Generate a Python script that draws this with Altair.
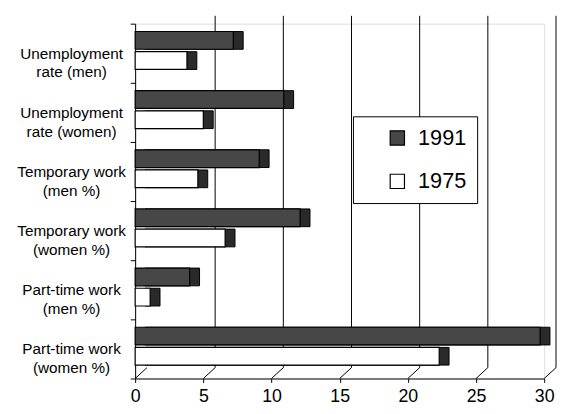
import altair as alt
import pandas as pd

categories = [
    "Unemployment\nrate (men)",
    "Unemployment\nrate (women)",
    "Temporary work\n(men %)",
    "Temporary work\n(women %)",
    "Part-time work\n(men %)",
    "Part-time work\n(women %)",
]
series = ["1991", "1975"]
values_1991 = [7.2, 10.9, 9.1, 12.1, 4.0, 29.7]
values_1975 = [3.8, 5.0, 4.6, 6.6, 1.1, 22.3]
x_ticks = [0, 5, 10, 15, 20, 25, 30]
grid_ticks = [5, 10, 15, 20, 25, 30]

rows = []
for c, a, b in zip(categories, values_1991, values_1975):
    rows.append({"category": c, "series": "1991", "value": a})
    rows.append({"category": c, "series": "1975", "value": b})
df = pd.DataFrame(rows)
grid_df = pd.DataFrame({"tick": grid_ticks})
floor_df = pd.DataFrame({"tick": x_ticks})

FONT = "Liberation Sans"
DARK = "#474747"

xscale = alt.Scale(domain=[0, 30], nice=False, zero=True)
yscale = alt.Scale(domain=categories, paddingInner=0, paddingOuter=0)
yoff = alt.YOffset(
    "series:N",
    sort=series,
    scale=alt.Scale(domain=series, paddingInner=0.12, paddingOuter=0.527, align=0.37),
)

x_enc = alt.X(
    "value:Q",
    scale=xscale,
    axis=alt.Axis(
        values=x_ticks, grid=False, title=None, labelFontSize=18, labelFont=FONT,
        labelColor="black", tickColor="black", domainColor="black", tickSize=4,
        labelPadding=5, domainWidth=1, labelFlush=False,
    ),
)
y_enc = alt.Y(
    "category:N",
    sort=categories,
    scale=yscale,
    axis=alt.Axis(
        title=None, labelExpr="split(datum.label, '\\n')", labelAlign="center",
        labelBaseline="middle", labelPadding=60, tickSize=5, tickBand="extent",
        labelFontSize=15.5, labelFont=FONT, labelColor="black", labelLineHeight=19,
        domainColor="black", tickColor="black", labelLimit=200,
    ),
)

grid = alt.Chart(grid_df).mark_rule(color="black", strokeWidth=1, xOffset=12, x2Offset=12).encode(
    x=alt.X("tick:Q", scale=xscale),
    y=alt.value(-8),
    y2=alt.value(349),
)
floor = alt.Chart(floor_df).mark_rule(color="black", strokeWidth=1, x2Offset=12).encode(
    x=alt.X("tick:Q", scale=xscale),
    x2=alt.X2("tick"),
    y=alt.value(360),
    y2=alt.value(349),
)

shadow = alt.Chart(df).mark_bar(
    fill="#2a2a2a", stroke="black", strokeWidth=1, xOffset=10, yOffset=-6, x2Offset=10, y2Offset=-6
).encode(
    x=alt.X("value:Q", scale=xscale),
    y=alt.Y("category:N", sort=categories, scale=yscale),
    yOffset=yoff,
)

front = alt.Chart(df).mark_bar(stroke="black", strokeWidth=1.2).encode(
    x=x_enc,
    y=y_enc,
    yOffset=yoff,
    fill=alt.Fill(
        "series:N",
        sort=series,
        scale=alt.Scale(domain=series, range=[DARK, "white"]),
        legend=alt.Legend(
            title=None, orient="none", legendX=221, legendY=94, strokeColor="black",
            fillColor="white", padding=11, symbolType="square", symbolSize=210,
            symbolStrokeColor="black", symbolStrokeWidth=1.2, labelFontSize=22,
            labelFont=FONT, labelColor="black", rowPadding=22, symbolOffset=23,
            labelOffset=10, labelExpr="datum.label + '          '",
        ),
    ),
)

chart = (
    alt.layer(grid, floor, shadow, front)
    .properties(
        width=415, height=360,
        autosize=alt.AutoSizeParams(type="none"),
        padding={"left": 129, "top": 13, "right": 13, "bottom": 25},
    )
    .configure_view(stroke=None)
    .configure(background="white")
)

chart.save("out.html", embed_options={"renderer": "svg", "actions": False})
